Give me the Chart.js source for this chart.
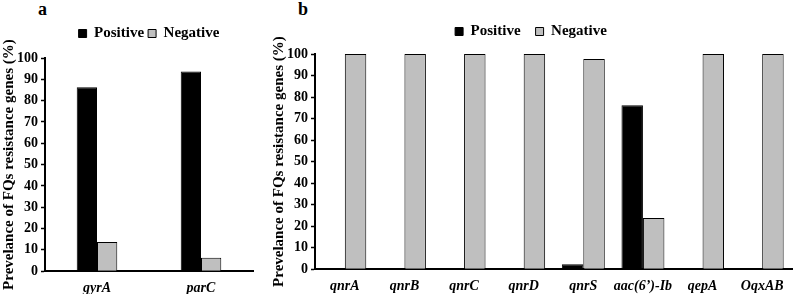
<html><head><meta charset="utf-8">
<script src="https://cdn.jsdelivr.net/npm/chart.js@4.4.1/dist/chart.umd.min.js"></script>
<style>
 body{margin:0;background:#fff;width:793px;height:294px;overflow:hidden;position:relative;font-family:'Liberation Serif',serif}
 canvas{position:absolute;top:0}
 .tag{position:absolute;top:0;font:bold 18px/18px 'Liberation Serif',serif;color:#000}
</style>
</head>
<body>
<div class="tag" style="left:38px">a</div>
<div class="tag" style="left:298px">b</div>
<canvas id="chartA" width="258" height="306" style="left:0"></canvas>
<canvas id="chartB" width="523" height="304" style="left:270px"></canvas>
<script>
// panel a
var genesA = ['gyrA', 'parC'];
var positiveA = [86.3, 93.7];
var negativeA = [13.7, 6.3];
// panel b
var genesB = ['qnrA', 'qnrB', 'qnrC', 'qnrD', 'qnrS', 'aac(6\u2019)-Ib', 'qepA', 'OqxAB'];
var positiveB = [0, 0, 0, 0, 2.3, 76.2, 0, 0];
var negativeB = [100, 100, 100, 100, 97.7, 23.8, 100, 100];
var yTitle = 'Prevelance of FQs resistance genes (%)';

var serif = 'Liberation Serif';

// push the plot down below the legend
function legendGap(px) {
  return {
    id: 'legendGap',
    beforeInit: function(chart) {
      var fit = chart.legend.fit;
      chart.legend.fit = function() {
        fit.bind(chart.legend)();
        this.height += px;
      };
    }
  };
}

function makeChart(id, labels, pos, neg, o) {
  return new Chart(document.getElementById(id), {
    type: 'bar',
    data: {
      labels: labels,
      datasets: [{
        label: 'Positive',
        data: pos,
        backgroundColor: '#000',
        borderColor: '#000',
        borderWidth: 1
      }, {
        label: 'Negative',
        data: neg,
        backgroundColor: '#bfbfbf',
        borderColor: '#000',
        borderWidth: 1
      }]
    },
    options: {
      responsive: false,
      animation: false,
      layout: {padding: o.padding},
      datasets: {bar: {categoryPercentage: o.cat, barPercentage: 1}},
      plugins: {
        tooltip: {enabled: false},
        legend: {
          position: 'top',
          fullSize: o.fullLegend,
          labels: {
            boxWidth: 8, boxHeight: 8,
            padding: o.legendPad,
            color: '#000',
            font: {family: serif, size: 15, weight: 'bold'}
          }
        }
      },
      scales: {
        x: {
          grid: {display: true, drawOnChartArea: false, drawTicks: false},
          border: {display: true, color: '#000', width: 2},
          ticks: {
            padding: 9, color: '#000', maxRotation: 0, autoSkip: false,
            font: {family: serif, size: 14, weight: 'bold', style: 'italic'}
          }
        },
        y: {
          min: 0, max: 100,
          grid: {display: true, drawOnChartArea: false, drawTicks: true, tickLength: 4, tickColor: '#000', tickWidth: 1.5},
          border: {display: true, color: '#000', width: 2},
          ticks: {
            stepSize: 10, padding: 3, color: '#000', autoSkip: false,
            font: {family: serif, size: 14, weight: 'bold'}
          },
          title: {
            display: true, text: yTitle, color: '#000',
            padding: {top: 0, bottom: -4},
            font: {family: serif, size: o.titleSize, weight: 'bold'}
          }
        }
      }
    },
    plugins: [legendGap(o.gap)]
  });
}

makeChart('chartA', genesA, positiveA, negativeA, {
  padding: {top: 22, right: 5, left: 0, bottom: 0},
  cat: 0.39, fullLegend: false, legendPad: 4, gap: 7, titleSize: 15
});
makeChart('chartB', genesB, positiveB, negativeB, {
  padding: {top: 9, right: 1, left: 0, bottom: 0},
  cat: 0.72, fullLegend: true, legendPad: 15, gap: 5, titleSize: 15
});
</script>
</body></html>
